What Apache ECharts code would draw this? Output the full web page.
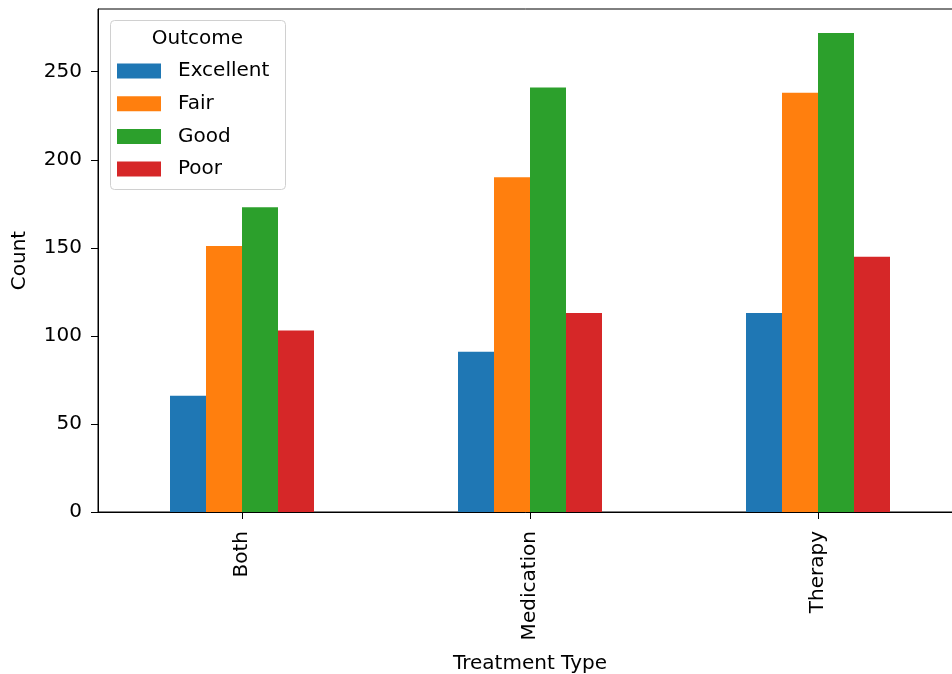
<!DOCTYPE html>
<html>
<head>
<meta charset="utf-8">
<script src="https://cdn.jsdelivr.net/npm/echarts@6/dist/echarts.min.js"></script>
<style>
html,body{margin:0;padding:0;background:#fff;}
#chart{width:952px;height:674px;}
</style>
</head>
<body>
<div id="chart"></div>
<script>
const categories = ['Both', 'Medication', 'Therapy'];
const seriesNames = ['Excellent', 'Fair', 'Good', 'Poor'];
const excellent = [66, 91, 113];
const fair = [151, 190, 238];
const good = [173, 241, 272];
const poor = [103, 113, 145];
const yTicks = [0, 50, 100, 150, 200, 250];
const colors = ['#1f77b4', '#ff7f0e', '#2ca02c', '#d62728'];
const values = [excellent, fair, good, poor];

const FONT = 'DejaVu Sans';
const FS = 20;
const chart = echarts.init(document.getElementById('chart'), null, {renderer: 'canvas'});

chart.setOption({
  animation: false,
  backgroundColor: '#fff',
  color: colors,
  textStyle: {fontFamily: FONT},
  grid: {
    left: 98, top: 9, width: 864, height: 503,
    outerBoundsMode: 'none',
    containLabel: false,
    show: true, borderColor: '#000', borderWidth: 1, backgroundColor: 'transparent'
  },
  legend: {
    orient: 'vertical',
    left: 117,
    top: 61,
    z: 20,
    icon: 'rect',
    itemWidth: 44,
    itemHeight: 15,
    itemGap: 12.7,
    padding: 0,
    data: seriesNames,
    textStyle: {fontFamily: FONT, fontSize: FS, color: '#000', lineHeight: 20, padding: [0, 0, 0, 12]}
  },
  graphic: [
    {
      type: 'rect', z: 5,
      shape: {x: 110.5, y: 20.5, width: 175, height: 169, r: 4},
      style: {fill: 'rgba(255,255,255,0.8)', stroke: '#d0d0d0', lineWidth: 1}
    },
    {
      type: 'text', z: 21,
      style: {x: 197.5, y: 38.5, text: 'Outcome', fontFamily: FONT, fontSize: FS, fill: '#000', align: 'center', verticalAlign: 'middle'}
    }
  ],
  xAxis: {
    type: 'category',
    data: categories,
    name: 'Treatment Type',
    nameLocation: 'middle',
    nameGap: 142,
    nameTextStyle: {fontFamily: FONT, fontSize: FS, color: '#000'},
    axisLine: {show: true, lineStyle: {color: '#000', width: 1}},
    axisTick: {show: true, alignWithLabel: true, length: 7, lineStyle: {color: '#000'}},
    axisLabel: {rotate: 90, margin: 19, fontFamily: FONT, fontSize: FS, color: '#000'},
    splitLine: {show: false}
  },
  yAxis: {
    type: 'value',
    min: 0,
    max: 285.6,
    interval: 50,
    name: 'Count',
    nameLocation: 'middle',
    nameGap: 68,
    nameTextStyle: {fontFamily: FONT, fontSize: FS, color: '#000'},
    axisLine: {show: true, lineStyle: {color: '#000', width: 1}},
    axisTick: {show: true, length: 7, lineStyle: {color: '#000'}, customValues: yTicks},
    axisLabel: {margin: 16, fontFamily: FONT, fontSize: FS, color: '#000', customValues: yTicks},
    splitLine: {show: false}
  },
  series: seriesNames.map((name, i) => ({
    name: name,
    type: 'bar',
    data: values[i],
    barGap: '0%',
    barCategoryGap: '50%',
    itemStyle: {color: colors[i]}
  }))
});
</script>
</body>
</html>
